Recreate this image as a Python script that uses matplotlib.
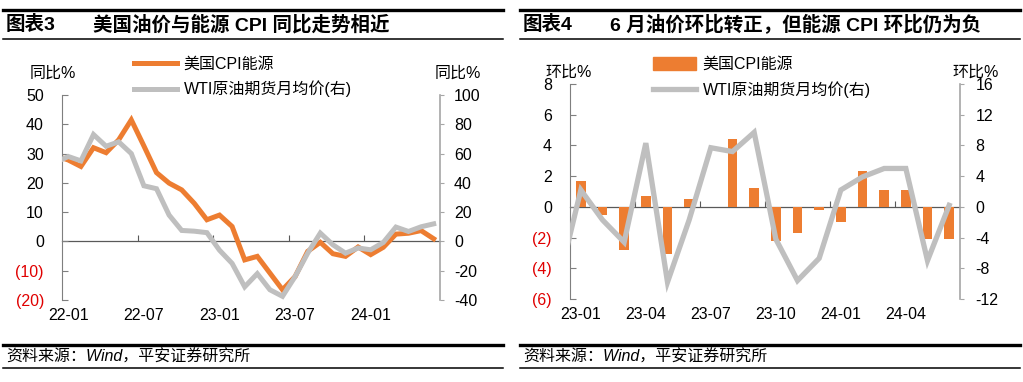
import matplotlib
matplotlib.use("Agg")
import matplotlib.pyplot as plt
from matplotlib.lines import Line2D
from matplotlib.patches import Patch

plt.rcParams['font.family'] = ['Liberation Sans', 'Noto Sans CJK SC']
plt.rcParams['axes.unicode_minus'] = False

# ---- data: chart 3 (yoy, first month 21-12 is clipped by the axis) ----
months_yoy = ['21-12', '22-01', '22-02', '22-03', '22-04', '22-05', '22-06', '22-07', '22-08',
              '22-09', '22-10', '22-11', '22-12', '23-01', '23-02', '23-03', '23-04', '23-05',
              '23-06', '23-07', '23-08', '23-09', '23-10', '23-11', '23-12', '24-01', '24-02',
              '24-03', '24-04', '24-05', '24-06']
cpi_energy_yoy = [29.3, 27.8, 25.6, 32.0, 30.3, 34.7, 41.5, 32.6, 23.5, 19.9, 17.6, 13.0, 7.4,
                  9.0, 5.1, -6.3, -5.1, -10.8, -16.5, -12.0, -3.4, -0.3, -4.2, -5.1, -1.9,
                  -4.5, -2.0, 2.5, 2.8, 3.7, 0.9]
wti_yoy = [54, 58, 55, 73, 65, 68, 60, 38, 36, 18, 7.5, 7, 6, -6, -15, -31, -22, -33, -37.5,
           -24, -8, 5.7, -2.3, -8, -4.5, -5.7, -0.7, 9.8, 6.8, 10, 12]
yoy_labels = ['22-01', '22-07', '23-01', '23-07', '24-01']

# ---- data: chart 4 (mom, first month 22-12 is clipped by the axis) ----
months_mom = ['22-12', '23-01', '23-02', '23-03', '23-04', '23-05', '23-06', '23-07', '23-08',
              '23-09', '23-10', '23-11', '23-12', '24-01', '24-02', '24-03', '24-04', '24-05',
              '24-06']
cpi_energy_mom = [-4.5, 1.7, -0.5, -2.8, 0.7, -3.05, 0.5, 0.0, 4.4, 1.2, -2.2, -1.7, -0.2,
                  -1.0, 2.35, 1.1, 1.1, -2.1, -2.1]
wti_mom = [-9.5, 2.2, -1.7, -4.6, 8.3, -9.8, -1.7, 7.7, 7.2, 9.7, -4.2, -9.6, -6.7, 2.2, 3.9,
           5.0, 5.0, -7.0, 0.2]
mom_labels = ['23-01', '23-04', '23-07', '23-10', '24-01', '24-04']

ORANGE = '#ED7D31'
GRAY = '#BFBFBF'
RED = '#E00000'
FS = 11.5

W, H = 1023, 382
fig = plt.figure(figsize=(W / 100, H / 100), dpi=100)


def px_axes(x0, y0, x1, y1):
    # pixel box (top-left origin) -> figure axes
    return fig.add_axes([x0 / W, 1 - y1 / H, (x1 - x0) / W, (y1 - y0) / H])


def paren(v):
    return '(%d)' % abs(v) if v < 0 else '%d' % v


def setup_axes(ax, ax2, months, xlabels, lo, hi, step, lo2, hi2, step2, every, lpad, rpad):
    n = len(months) - 1
    ax.set_xlim(-0.5, n - 0.5)
    ax.set_ylim(lo, hi)
    ax2.set_ylim(lo2, hi2)
    for s in ['top', 'bottom', 'right']:
        ax.spines[s].set_visible(False)
    for s in ['top', 'bottom', 'left']:
        ax2.spines[s].set_visible(False)
    ax.spines['left'].set_color('#7F7F7F')
    ax2.spines['right'].set_color('#A6A6A6')
    ax2.spines['right'].set_linewidth(1.2)

    ticks = list(range(lo, hi + 1, step))
    ax.set_yticks(ticks)
    ax.set_yticklabels([paren(t) for t in ticks])
    for t, lab in zip(ticks, ax.get_yticklabels()):
        lab.set_color(RED if t < 0 else 'black')
    ax.tick_params(axis='y', direction='in', length=4, pad=lpad, labelsize=FS, color='#7F7F7F')

    ticks2 = list(range(lo2, hi2 + 1, step2))
    ax2.set_yticks(ticks2)
    ax2.set_yticklabels([str(t) for t in ticks2])
    ax2.tick_params(axis='y', direction='out', length=3, pad=rpad, labelsize=FS, color='#A6A6A6')

    ax.set_xticks([months.index(m) - 1 for m in xlabels])
    ax.set_xticklabels(xlabels)
    ax.tick_params(axis='x', length=0, pad=6, labelsize=FS)

    # zero line with category-boundary tick marks
    sec = ax.secondary_xaxis(-lo / (hi - lo))
    sec.spines['bottom'].set_color('#595959')
    sec.spines['bottom'].set_linewidth(0.9)
    sec.set_xticks([k - 0.5 for k in range(every, n, every)])
    sec.set_xticklabels([])
    sec.tick_params(axis='x', direction='in', length=4, color='#595959')
    ax.set_facecolor('none')
    ax2.set_facecolor('none')


# ================= chart 3 =================
x1 = list(range(-1, len(months_yoy) - 1))
ax = px_axes(62, 95, 440, 300)
ax2 = ax.twinx()
ax.plot(x1, cpi_energy_yoy, color=ORANGE, lw=3.6, solid_joinstyle='miter')
ax2.plot(x1, wti_yoy, color=GRAY, lw=3.6, solid_joinstyle='miter')
setup_axes(ax, ax2, months_yoy, yoy_labels, -20, 50, 10, -40, 100, 20, 6, 13, 7)
h1 = [Line2D([], [], color=ORANGE, lw=3.6), Line2D([], [], color=GRAY, lw=3.6)]
fig.legend(h1, ['美国CPI能源', 'WTI原油期货月均价(右)'], loc='upper left',
           bbox_to_anchor=(134 / W, 1 - 57 / H), frameon=False, fontsize=FS,
           handlelength=2.7, handletextpad=0.4, labelspacing=0.55, borderpad=0,
           borderaxespad=0)
fig.text(30 / W, 1 - 73 / H, '同比%', fontsize=FS, va='center', ha='left')
fig.text(435 / W, 1 - 73 / H, '同比%', fontsize=FS, va='center', ha='left')

# ================= chart 4 =================
x2 = list(range(-1, len(months_mom) - 1))
bx = px_axes(570, 84, 960, 299)
bx2 = bx.twinx()
bx.bar(x2, cpi_energy_mom, width=0.46, color=ORANGE)
bx2.plot(x2, wti_mom, color=GRAY, lw=3.8, solid_joinstyle='miter')
setup_axes(bx, bx2, months_mom, mom_labels, -6, 8, 2, -12, 16, 4, 3, 13, 8)
h2 = [Patch(color=ORANGE), Line2D([], [], color=GRAY, lw=3.8)]
fig.legend(h2, ['美国CPI能源', 'WTI原油期货月均价(右)'], loc='upper left',
           bbox_to_anchor=(653 / W, 1 - 57 / H), frameon=False, fontsize=FS,
           handlelength=2.7, handleheight=0.9, handletextpad=0.4, labelspacing=0.55,
           borderpad=0, borderaxespad=0)
fig.text(545 / W, 1 - 72 / H, '环比%', fontsize=FS, va='center', ha='left')
fig.text(952 / W, 1 - 72 / H, '环比%', fontsize=FS, va='center', ha='left')

# ================= titles, rules, source =================
for (xa, xb), num, title in [((3, 503), '图表3', '美国油价与能源 CPI 同比走势相近'),
                             ((520, 1020), '图表4', '6 月油价环比转正，但能源 CPI 环比仍为负')]:
    for y, lw in [(10, 2.4), (39, 1.1), (345, 2.4), (368, 1.1)]:
        fig.add_artist(Line2D([xa / W, xb / W], [1 - y / H, 1 - y / H], color='black', lw=lw))
    fig.text((xa + 3) / W, 1 - 25 / H, num, fontsize=14, fontweight='bold', va='center')
    fig.text((xa + 90) / W, 1 - 25 / H, title, fontsize=14, fontweight='bold', va='center')
    fig.text((xa + 3) / W, 1 - 357 / H, '资料来源：Wind，平安证券研究所', fontsize=11.5,
             style='italic', va='center')

fig.savefig('out.png', dpi=100)
